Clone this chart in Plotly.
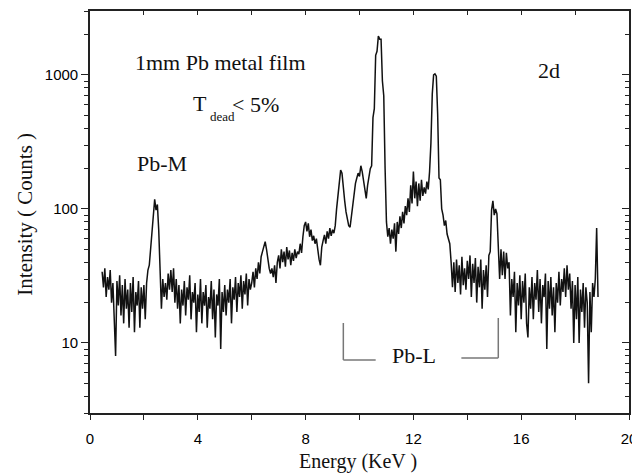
import numpy as np
import plotly.graph_objects as go

# ---- data: counts per 0.05 keV channel ----
E_START = 0.45
E_STEP = 0.05
counts_00 = [34, 26, 36, 22, 31, 25, 35, 20, 28, 17, 8]                      # 0.45-0.95
counts_01 = [29, 19, 32, 16, 27, 14, 30, 18, 25, 13, 28, 17, 31, 12, 24, 19, 29, 13, 26, 18]
counts_02 = [27, 15, 28, 35, 38, 50, 60, 90, 118, 98, 108, 70, 40, 18, 30, 22, 28, 21, 33, 25]
counts_03 = [35, 24, 36, 20, 30, 18, 27, 14, 25, 19, 29, 16, 26, 21, 32, 15, 24, 20, 28, 12]
counts_04 = [23, 17, 30, 14, 24, 19, 27, 13, 22, 18, 29, 15, 25, 11, 23, 19, 30, 9, 24, 17]
counts_05 = [27, 16, 25, 20, 30, 14, 26, 21, 31, 17, 28, 22, 32, 18, 29, 23, 33, 19, 30, 25]
counts_06 = [28, 34, 26, 36, 30, 40, 33, 44, 48, 52, 57, 50, 42, 36, 33, 36, 31, 38, 28, 40]
counts_07 = [45, 36, 50, 40, 48, 37, 52, 42, 49, 38, 47, 41, 50, 43, 48, 46, 55, 47, 62, 75]
counts_08 = [80, 68, 78, 62, 70, 58, 63, 55, 60, 48, 42, 38, 52, 58, 64, 55, 68, 60, 72, 63]
counts_09 = [70, 66, 75, 100, 130, 165, 195, 185, 140, 115, 95, 85, 75, 73, 90, 110, 130, 155, 170, 185]
counts_10 = [175, 210, 190, 165, 140, 120, 150, 175, 200, 210, 480, 560, 1400, 1500, 1950, 1850, 1850, 900, 700, 200]
counts_11 = [80, 62, 72, 55, 70, 60, 78, 48, 80, 65, 88, 72, 95, 78, 105, 90, 120, 95, 150, 110]
counts_12 = [190, 120, 160, 105, 155, 115, 165, 125, 145, 130, 160, 140, 190, 310, 720, 1000, 1020, 980, 510, 170]
counts_13 = [165, 100, 90, 75, 82, 65, 60, 55, 40, 26, 40, 24, 42, 28, 38, 23, 44, 27, 36, 25]
counts_14 = [41, 30, 45, 22, 39, 28, 43, 20, 37, 26, 42, 18, 35, 25, 38, 22, 45, 48, 98, 115]
counts_15 = [90, 100, 92, 58, 30, 50, 32, 48, 30, 47, 36, 40, 16, 30, 22, 34, 12, 28, 19, 32]
counts_16 = [15, 29, 20, 33, 14, 11, 26, 18, 31, 15, 28, 21, 35, 17, 30, 14, 27, 22, 33, 9]
counts_17 = [29, 18, 31, 16, 26, 12, 28, 20, 34, 19, 30, 24, 36, 22, 38, 25, 33, 18, 29, 10]
counts_18 = [27, 15, 31, 10, 25, 17, 28, 13, 26, 20, 5, 24, 12, 28, 22, 30, 72, 22]  # 18.00-18.85

x_tick_vals = [0, 4, 8, 12, 16, 20]
x_tick_text = ["0", "4", "8", "12", "16", "20"]
y_tick_vals = [10, 100, 1000]
y_tick_text = ["10", "100", "1000"]

counts = (counts_00 + counts_01 + counts_02 + counts_03 + counts_04 + counts_05 +
          counts_06 + counts_07 + counts_08 + counts_09 + counts_10 + counts_11 +
          counts_12 + counts_13 + counts_14 + counts_15 + counts_16 + counts_17 + counts_18)
energy = np.round(E_START + E_STEP * np.arange(len(counts)), 2)

SERIF = "Liberation Serif"
SANS = "Liberation Sans"
AX = "#222222"

fig = go.Figure()
fig.add_trace(go.Scatter(x=energy, y=counts, mode="lines", line=dict(color="#111111", width=1.5),
                         showlegend=False, hoverinfo="skip"))
# carrier trace for the mirrored (top/right) axes
fig.add_trace(go.Scatter(x=energy[:1], y=counts[:1], xaxis="x2", yaxis="y2", mode="markers",
                         marker=dict(opacity=0), showlegend=False, hoverinfo="skip"))

yr = [np.log10(3), np.log10(3000)]
fig.update_layout(
    width=632, height=475,
    margin=dict(l=89.5, r=2.5, t=11, b=62, autoexpand=False),
    paper_bgcolor="white", plot_bgcolor="white",
    xaxis=dict(range=[0, 20], tickmode="array", tickvals=x_tick_vals, ticktext=x_tick_text,
               ticks="outside", ticklen=5, tickwidth=1.2, tickcolor=AX, ticklabelstandoff=6,
               ticklabeloverflow="allow", automargin=False,
               minor=dict(tickmode="linear", tick0=0, dtick=2, ticks="outside", ticklen=5, tickwidth=1.2, tickcolor=AX),
               showline=True, linecolor=AX, linewidth=1.6, showgrid=False, zeroline=False,
               tickfont=dict(family=SANS, size=15, color="black")),
    yaxis=dict(type="log", range=yr, tickmode="array", tickvals=y_tick_vals, ticktext=y_tick_text,
               ticks="outside", ticklen=7, tickwidth=1.2, tickcolor=AX, automargin=False,
               minor=dict(tickmode="linear", dtick="D1", ticks="outside", ticklen=4, tickwidth=1.2, tickcolor=AX),
               showline=True, linecolor=AX, linewidth=1.6, showgrid=False, zeroline=False,
               tickfont=dict(family=SANS, size=15, color="black")),
    xaxis2=dict(overlaying="x", side="top", range=[0, 20], tickmode="linear", tick0=0, dtick=2,
                ticks="inside", ticklen=4, tickwidth=1.2, tickcolor=AX, showticklabels=False, automargin=False,
                showline=True, linecolor=AX, linewidth=1.6, showgrid=False, zeroline=False),
    yaxis2=dict(overlaying="y", side="right", type="log", range=yr, tickmode="array", tickvals=y_tick_vals,
                ticks="inside", ticklen=7, tickwidth=1.2, tickcolor=AX, showticklabels=False, automargin=False,
                minor=dict(tickmode="linear", dtick="D1", ticks="inside", ticklen=4, tickwidth=1.2, tickcolor=AX),
                showline=True, linecolor=AX, linewidth=1.6, showgrid=False, zeroline=False),
)

def ann(text, x, y, size=21, xanchor="center", **kw):
    fig.add_annotation(text=text, x=x, y=y, xref="paper", yref="paper", showarrow=False,
                       xanchor=xanchor, yanchor="middle", font=dict(family=SERIF, size=size, color="#111"), **kw)

ann("1mm Pb metal film", 0.2417, 0.872, size=22)
ann("T", 0.1880, 0.770, size=22, xanchor="left")
ann("dead", 0.2185, 0.737, size=13, xanchor="left")
ann("&lt; 5%", 0.2600, 0.768, size=22, xanchor="left")
ann("Pb-M", 0.1333, 0.621, size=22)
ann("2d", 0.8509, 0.852, size=22)
ann("Pb-L", 0.6009, 0.142, size=22)
ann("Intensity ( Counts )", -0.1213, 0.495, textangle=-90)
ann("Energy (KeV )", 0.498, -0.121, size=20)

# Pb-L bracket
BR = dict(color="#777777", width=1.5)
fig.add_shape(type="line", xref="x", yref="paper", x0=9.40, x1=9.40, y0=0.2239, y1=0.132, line=BR)
fig.add_shape(type="line", xref="x", yref="paper", x0=9.40, x1=10.6, y0=0.132, y1=0.132, line=BR)
fig.add_shape(type="line", xref="x", yref="paper", x0=13.78, x1=15.15, y0=0.137, y1=0.137, line=BR)
fig.add_shape(type="line", xref="x", yref="paper", x0=15.15, x1=15.15, y0=0.137, y1=0.2363, line=BR)

fig.write_html("out.html", config={"displayModeBar": False})

# remove the browser's default page margin so the figure sits at the window's top-left corner
with open("out.html", "r", encoding="utf-8") as f:
    html = f.read()
html = html.replace("<head>", "<head><style>html,body{margin:0;padding:0;overflow:hidden;}</style>", 1)
with open("out.html", "w", encoding="utf-8") as f:
    f.write(html)
